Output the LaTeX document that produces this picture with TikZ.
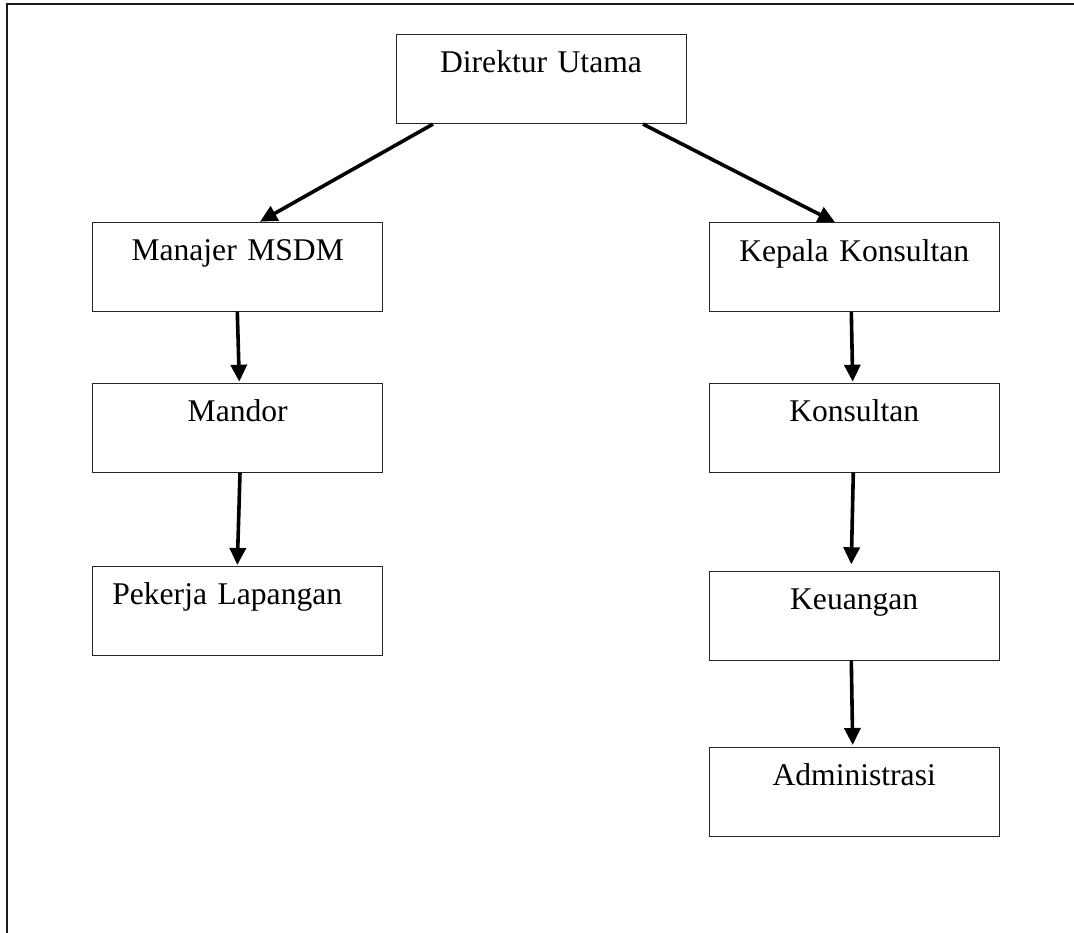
\documentclass[tikz,border=0pt]{standalone}
\usepackage{fontspec}
\setmainfont{Liberation Serif}
\usetikzlibrary{arrows.meta}
\begin{document}
\begin{tikzpicture}[x=1pt,y=1pt,
  orgbox/.style={draw=black!85, line width=0.9pt, inner xsep=0pt, inner ysep=0pt,
    text width=290pt, align=center, text height=38.5pt, text depth=50.5pt,
    anchor=north, font=\fontsize{31.6}{36}\selectfont},
  arr/.style={line width=3.6pt, -{Triangle[length=17pt,width=16pt]}},
  frameline/.style={draw=black!90, line width=2pt}]
\useasboundingbox (0,0) rectangle (1074,-933);
\draw[frameline] (7,-933) -- (7,-4.5) -- (1074,-4.5);

\node[orgbox] (D)  at (541,-33.7)   {Direktur Utama};
\node[orgbox] (M1) at (237.7,-221.7) {Manajer MSDM};
\node[orgbox] (M2) at (237.7,-382.7) {Mandor};
\node[orgbox, align=left] (P) at (237.7,-566) {\hspace*{19.6pt}Pekerja Lapangan};
\node[orgbox] (K1) at (854.2,-222.3) {Kepala Konsultan};
\node[orgbox] (K2) at (854.2,-382.7) {Konsultan};
\node[orgbox] (K3) at (854.2,-570.7) {Keuangan};
\node[orgbox] (A)  at (854.2,-746.7) {Administrasi};

\draw[arr] ([xshift=-108pt,yshift=-0.5pt]D.south) -- ([xshift=22.3pt]M1.north);
\draw[arr] ([xshift=102pt,yshift=-0.5pt]D.south) -- ([xshift=-19.2pt]K1.north);
\draw[arr] ([xshift=-0.4pt]M1.south) -- ([xshift=1.6pt,yshift=1pt]M2.north);
\draw[arr] ([xshift=2.3pt]M2.south) -- ([xshift=-0.4pt,yshift=1pt]P.north);
\draw[arr] ([xshift=-2.9pt]K1.south) -- ([xshift=-1.5pt,yshift=1pt]K2.north);
\draw[arr] ([xshift=-0.9pt]K2.south) -- ([xshift=-2.9pt,yshift=6.4pt]K3.north);
\draw[arr] ([xshift=-2.9pt]K3.south) -- ([xshift=-1.5pt,yshift=1.7pt]A.north);
\end{tikzpicture}
\end{document}
